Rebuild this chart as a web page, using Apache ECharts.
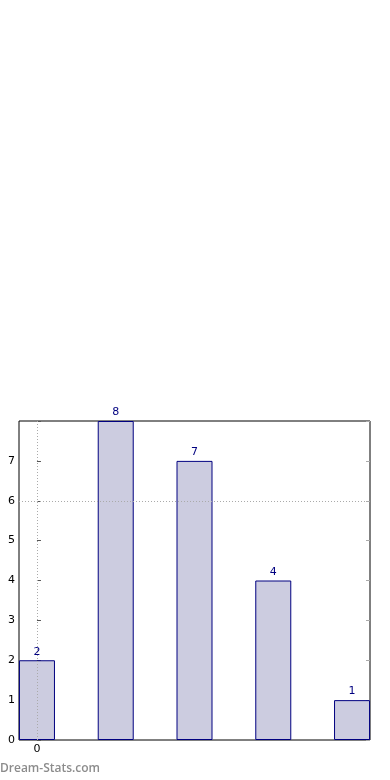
<!DOCTYPE html>
<html><head><meta charset="utf-8">
<script src="https://cdn.jsdelivr.net/npm/echarts@6/dist/echarts.min.js"></script>
<style>html,body{margin:0;padding:0;background:#fff}#c{width:390px;height:780px}</style>
</head><body><div id="c"></div>
<script>
var xPositions = [0, 1, 2, 3, 4];
var values = [2, 8, 7, 4, 1];
var xTickLabels = [0];
var yTicks = [0, 1, 2, 3, 4, 5, 6, 7];
var gridLineY = 6;
var gridLineX = 0;

var chart = echarts.init(document.getElementById('c'));
var data = xPositions.map(function (x, i) { return [x, values[i]]; });
var font = 'DejaVu Sans';
chart.setOption({
  animation: false,
  grid: { left: 19, right: 20, top: 421, bottom: 40, show: true, borderColor: '#000', borderWidth: 1, backgroundColor: 'transparent' },
  xAxis: {
    type: 'value', min: -0.228, max: 4.228,
    axisLine: { show: false },
    splitLine: { show: false },
    axisTick: { show: true, inside: true, length: 4, lineStyle: { color: '#999' }, customValues: xTickLabels },
    axisLabel: { color: '#000', fontFamily: font, fontSize: 11, margin: 4, customValues: xTickLabels }
  },
  yAxis: [{
    type: 'value', min: 0, max: 8, interval: 1,
    axisLine: { show: false },
    splitLine: { show: false },
    axisTick: { show: true, inside: true, length: 4, lineStyle: { color: '#555' } },
    axisLabel: { color: '#000', fontFamily: font, fontSize: 11, margin: 4,
      formatter: function (v) { return yTicks.indexOf(v) >= 0 ? String(v) : ''; } }
  }, {
    type: 'value', min: 0, max: 8, interval: 1, position: 'right',
    axisLine: { show: false },
    splitLine: { show: false },
    axisTick: { show: true, inside: true, length: 4, lineStyle: { color: '#aaa' } },
    axisLabel: { show: false }
  }],
  series: [{
    type: 'bar',
    data: data,
    barWidth: 36,
    itemStyle: { color: '#cccce0', borderColor: '#000080', borderWidth: 1 },
    label: { show: true, position: 'top', distance: 3, color: '#000080', fontFamily: font, fontSize: 11 },
    markLine: {
      silent: true, symbol: 'none', label: { show: false },
      lineStyle: { color: '#aaa', type: [1, 2], width: 1 },
      data: [{ yAxis: gridLineY }, { xAxis: gridLineX }]
    }
  }],
  graphic: [{
    type: 'text', left: 0, top: 763,
    style: { text: 'Dream-Stats.com', fill: '#8c8c8c', font: '600 12px "Open Sans"' }
  }]
});
</script></body></html>
